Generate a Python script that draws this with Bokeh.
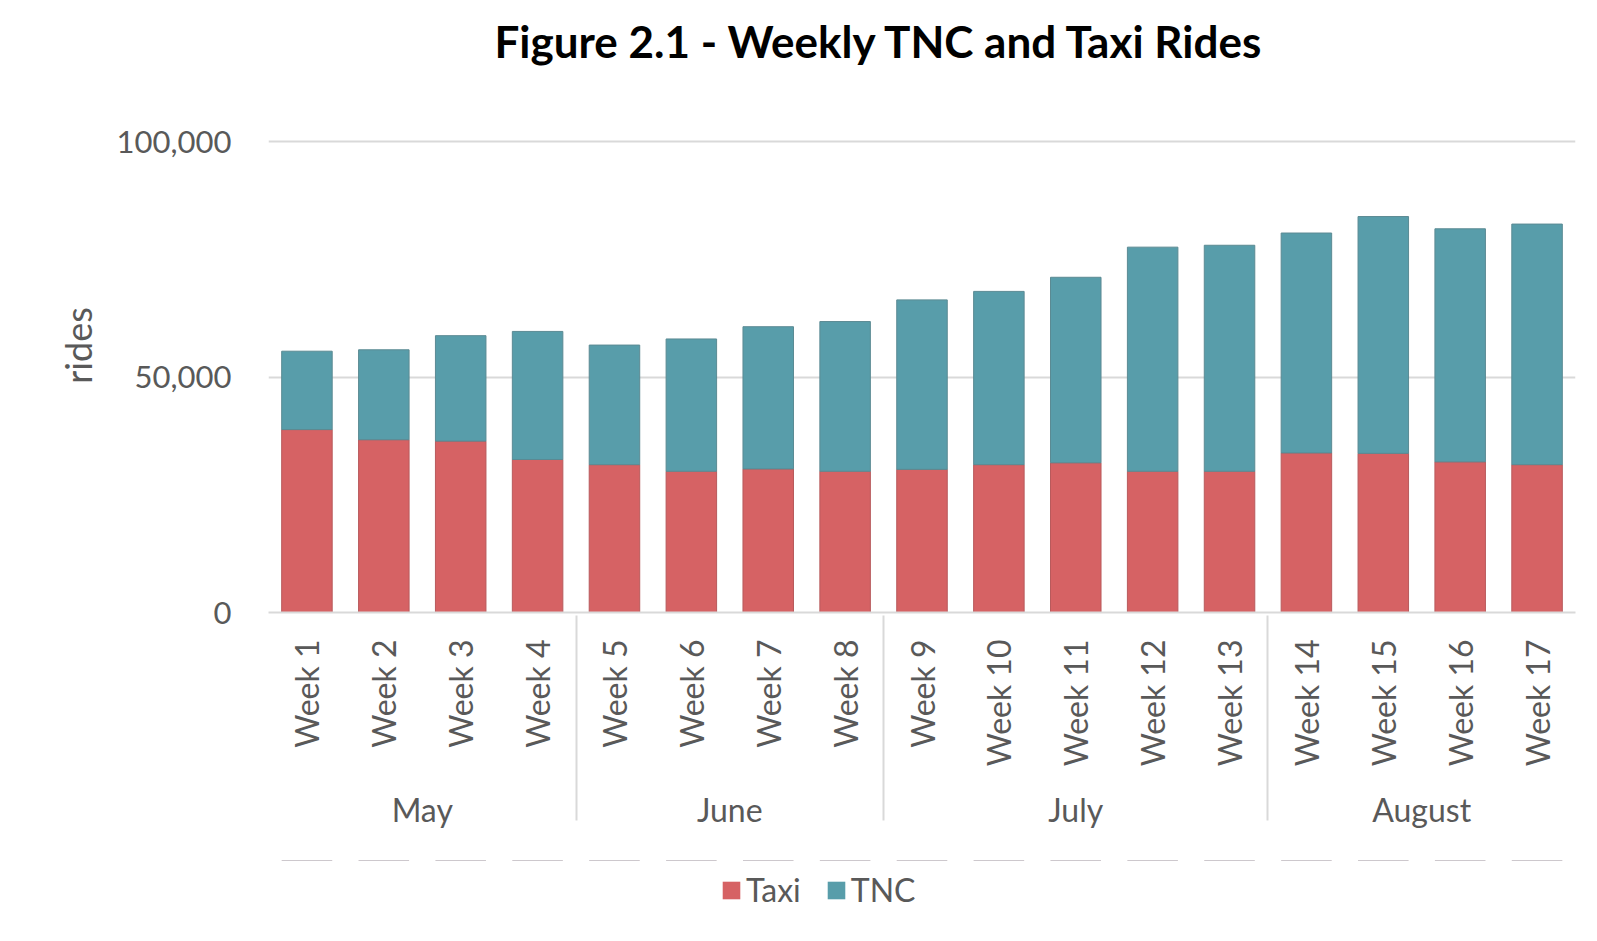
import math
from bokeh.plotting import figure
from bokeh.layouts import column
from bokeh.models import FactorRange, ColumnDataSource, Legend, NumeralTickFormatter, FixedTicker
from bokeh.embed import file_html
from bokeh.resources import INLINE

months = ["May", "May", "May", "May",
          "June", "June", "June", "June",
          "July", "July", "July", "July", "July",
          "August", "August", "August", "August"]
weeks = ["Week 1", "Week 2", "Week 3", "Week 4", "Week 5", "Week 6", "Week 7", "Week 8",
         "Week 9", "Week 10", "Week 11", "Week 12", "Week 13", "Week 14", "Week 15",
         "Week 16", "Week 17"]
taxi = [38850, 36700, 36400, 32500, 31400, 30000, 30500, 30000, 30400,
        31400, 31800, 30000, 30000, 33900, 33800, 32000, 31400]
tnc = [16650, 19100, 22400, 27200, 25400, 28100, 30200, 31800, 36000,
       36800, 39400, 47600, 48000, 46700, 50300, 49500, 51100]
series = ["Taxi", "TNC"]
colors = ["#D66264", "#589DAA"]
y_ticks = [0, 50000, 100000]

factors = list(zip(months, weeks))
source = ColumnDataSource(data=dict(x=factors, Taxi=taxi, TNC=tnc))

FONT = "Lato"
TXT = "#595959"

p = figure(
    x_range=FactorRange(*factors, group_padding=0, factor_padding=0, range_padding=0),
    y_range=(0, 113420),
    frame_width=1307, frame_height=534,
    output_backend="svg", toolbar_location=None,
    min_border_left=268, min_border_right=6, min_border_top=78, min_border_bottom=248,
)

rs = p.vbar_stack(series, x="x", width=0.657, source=source, color=colors,
                  line_color=["#b85a5c", "#5b8a93"], line_width=1)

p.title.text = "Figure 2.1 - Weekly TNC and Taxi Rides"
p.title.text_font = FONT
p.title.text_font_size = "44px"
p.title.text_font_style = "bold"
p.title.text_color = "#000000"
p.title.align = "left"
p.title.offset = 226
p.title.standoff = 23

p.yaxis.ticker = FixedTicker(ticks=y_ticks)
p.yaxis.formatter = NumeralTickFormatter(format="0,0")
p.yaxis.axis_line_color = None
p.yaxis.major_tick_line_color = None
p.yaxis.minor_tick_line_color = None
p.yaxis.major_label_text_font = FONT
p.yaxis.major_label_text_font_size = "31px"
p.yaxis.major_label_text_color = TXT
p.yaxis.major_label_standoff = 31
p.yaxis.axis_label = "rides"
p.yaxis.axis_label_text_font = FONT
p.yaxis.axis_label_text_font_size = "36px"
p.yaxis.axis_label_text_font_style = "normal"
p.yaxis.axis_label_text_color = TXT
p.yaxis.axis_label_standoff = 14

p.xaxis.axis_line_color = "#d9d9d9"
p.xaxis.axis_line_width = 2
p.xaxis.major_tick_line_color = None
p.xaxis.minor_tick_line_color = None
p.xaxis.major_label_orientation = math.pi / 2
p.xaxis.major_label_standoff = 21
p.xaxis.major_label_text_font = FONT
p.xaxis.major_label_text_font_size = "32px"
p.xaxis.major_label_text_color = TXT
p.xaxis.group_text_font = FONT
p.xaxis.group_text_font_size = "32px"
p.xaxis.group_text_color = TXT
p.xaxis.group_text_font_style = "normal"
p.xaxis.separator_line_color = "#d9d9d9"
p.xaxis.separator_line_width = 2

p.xgrid.grid_line_color = None
p.ygrid.grid_line_color = "#d9d9d9"
p.ygrid.grid_line_width = 2
p.outline_line_color = None

# Legend strip below the chart: a small figure whose y range lies far below zero,
# so its copy of the stacked bars is clipped away and only the legend shows.
leg = figure(width=1581, height=81,
             x_range=FactorRange(*factors, group_padding=0, factor_padding=0, range_padding=0),
             y_range=(-20, -10),
             output_backend="svg", toolbar_location=None,
             x_axis_type=None, y_axis_type=None,
             min_border_left=0, min_border_right=0, min_border_top=0, min_border_bottom=0)
leg.xgrid.grid_line_color = None
leg.ygrid.grid_line_color = None
leg.outline_line_color = None
lr = leg.vbar_stack(series, x="x", width=0.657, source=source,
                    fill_color=colors, line_color=None)

legend = Legend(items=[(s, [r]) for s, r in zip(series, lr)],
                orientation="horizontal", location=(452, 32),
                label_text_font=FONT, label_text_font_size="32px",
                label_text_color=TXT, glyph_width=22, glyph_height=22,
                label_standoff=4, spacing=24, padding=10,
                border_line_color=None, background_fill_alpha=0, margin=0)
leg.add_layout(legend, "center")

layout = column(p, leg, spacing=0)
open("out.html", "w").write(file_html(layout, INLINE))
